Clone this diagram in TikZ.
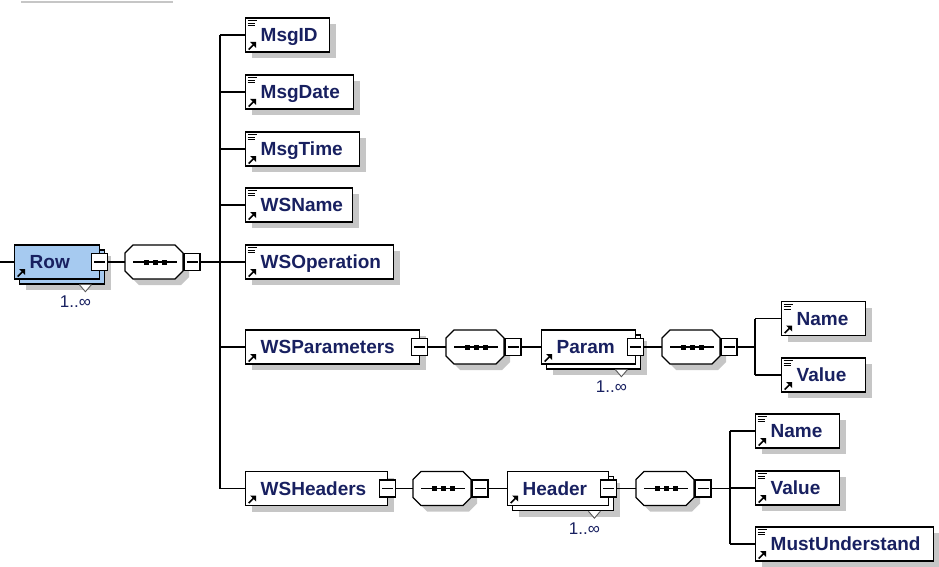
\documentclass[tikz,border=0pt]{standalone}
\usepackage{fontspec}
\setmainfont{Liberation Sans}
\usetikzlibrary{shadows,calc}

\definecolor{labelblue}{RGB}{24,32,96}
\definecolor{rowblue}{RGB}{166,202,240}
\definecolor{shadowgrey}{RGB}{198,198,198}

% small "reference" arrow in the lower left corner of an element box
\newcommand\arrowicon{%
  \fill[black] ([xshift=10.5pt,yshift=10pt]path picture bounding box.south west)
     -- ++(-6pt,0pt) -- ++(6pt,-6pt) -- cycle;
  \draw[black,line width=1.6pt]
     ([xshift=3pt,yshift=2.5pt]path picture bounding box.south west)
     -- ([xshift=8pt,yshift=7.5pt]path picture bounding box.south west);}
% "simple content" lines in the upper left corner of a leaf element
\newcommand\linesicon{%
  \draw[black,line width=0.9pt]
     ([xshift=2pt,yshift=-2.6pt]path picture bounding box.north west) -- ++(9pt,0pt)
     ([xshift=2pt,yshift=-5.1pt]path picture bounding box.north west) -- ++(7pt,0pt)
     ([xshift=2pt,yshift=-7.6pt]path picture bounding box.north west) -- ++(7pt,0pt);}

\tikzset{
  elem/.style={rectangle, draw=black, line width=1.4pt, fill=white, anchor=west,
    minimum height=34pt, inner xsep=15pt, inner ysep=0pt,
    text height=13.6pt, text depth=0pt, align=left, text=labelblue,
    font=\fontsize{19pt}{22pt}\selectfont\bfseries},
  boxshadow/.style={general shadow={shadow xshift=6pt, shadow yshift=-6pt, fill=shadowgrey}},
  leaf/.style={elem, boxshadow, path picture={\linesicon\arrowicon}},
  ref/.style={path picture={\arrowicon}},
  minusbox/.style={rectangle, draw=black, fill=white, line width=1.4pt,
    minimum width=16pt, minimum height=17pt, inner sep=0pt,
    path picture={\draw[line width=1.3pt]
      ([xshift=2.5pt]path picture bounding box.west) --
      ([xshift=-2.5pt]path picture bounding box.east);}},
  occ/.style={inner sep=0pt, text=labelblue, font=\fontsize{17pt}{20pt}\selectfont},
  conn/.style={draw=black, line width=1.4pt},
  oct/.style={insert path={(0,-9) -- (8,-17) -- (50,-17) -- (58,-9) -- (58,9)
    -- (50,17) -- (8,17) -- (0,9) -- cycle}},
}

% sequence compositor: octagon with its collapse box; #1 = name, #2 = left middle point
\newcommand\seqbox[2]{%
  \coordinate (#1) at (#2);
  \begin{scope}[shift={(#1)}]
    \fill[shadowgrey, shift={(6,6)}, oct];
    \draw[line width=1.3pt, fill=white, oct];
    \draw[line width=1.2pt] (8,0) -- (52,0);
    \foreach \d in {21.5,30.5,39.5} \fill (\d-2.5,-2.5) rectangle (\d+2.5,2.5);
  \end{scope}
  \node[minusbox] (#1m) at ($(#1)+(67,0)$) {};}

% "1..unbounded" marker under a repeated element
\newcommand\repmark[1]{%
  \fill[white] ([xshift=-26pt]#1.south east) -- ([xshift=-14pt]#1.south east)
     -- ([xshift=-20pt,yshift=-7pt]#1.south east) -- cycle;
  \draw[black!65,line width=0.9pt] ([xshift=-26pt]#1.south east)
     -- ([xshift=-20pt,yshift=-7pt]#1.south east) -- ([xshift=-14pt]#1.south east);}

\begin{document}
\begin{tikzpicture}[x=1pt,y=-1pt]
\useasboundingbox (0,0) rectangle (939,567);

% edge of a shadow at the top
\draw[shadowgrey, line width=2pt] (21,2.5) -- (173,2.5);

% ---- Row (repeated root element) ----
\coordinate (rin) at (0,262);
\node[elem, boxshadow, fill=rowblue, text width=55pt] (rowback) at (19,267) {};
\repmark{rowback}
\node[elem, ref, fill=rowblue, text width=55pt] (row) at (14,262) {Row};
\node[minusbox] (rowm) at ([xshift=-1pt]row.east) {};
\node[occ] (rowocc) at ([xshift=-30pt,yshift=-17pt]rowback.south east) {1..∞};

\seqbox{seqr}{125,262}
\coordinate (t1) at (220,262);

% ---- children of Row ----
\node[leaf, text width=54pt]  (msgid)   at (245,35)  {MsgID};
\node[leaf, text width=78pt]  (msgdate) at (245,92)  {MsgDate};
\node[leaf, text width=84pt]  (msgtime) at (245,149) {MsgTime};
\node[leaf, text width=77pt]  (wsname)  at (245,205) {WSName};
\node[leaf, text width=118pt] (wsop)    at (245,262) {WSOperation};
\node[elem, boxshadow, ref, text width=144pt] (wsparams) at (245,347) {WSParameters};
\node[minusbox] (wsparamsm) at ([xshift=-1pt]wsparams.east) {};
\node[elem, boxshadow, ref, text width=112pt] (wsheaders) at (245,488.5) {WSHeaders};
\node[minusbox] (wsheadersm) at ([xshift=-1pt]wsheaders.east) {};

% ---- WSParameters branch ----
\seqbox{seqp}{446,347}
\node[elem, boxshadow, text width=64pt] (paramback) at (546,352) {};
\repmark{paramback}
\node[elem, ref, text width=64pt] (param) at (541,347) {Param};
\node[minusbox] (paramm) at ([xshift=-1pt]param.east) {};
\node[occ] (paramocc) at ([xshift=-30pt,yshift=-17pt]paramback.south east) {1..∞};
\seqbox{seqpp}{662,347}
\coordinate (t2) at (755,347);
\node[leaf, text width=54pt] (pname)  at (781,318.5) {Name};
\node[leaf, text width=54pt] (pvalue) at (781,375)   {Value};

% ---- WSHeaders branch ----
\seqbox{seqh}{413,488.5}
\node[elem, boxshadow, text width=71pt] (headerback) at (512,493.5) {};
\repmark{headerback}
\node[elem, ref, text width=71pt] (header) at (507,488.5) {Header};
\node[minusbox] (headerm) at ([xshift=-1pt]header.east) {};
\node[occ] (headerocc) at ([xshift=-30pt,yshift=-17pt]headerback.south east) {1..∞};
\seqbox{seqhh}{636,488.5}
\coordinate (t3) at (730,488.5);
\node[leaf, text width=54pt]  (hname)  at (755,431) {Name};
\node[leaf, text width=54pt]  (hvalue) at (755,488) {Value};
\node[leaf, text width=148pt] (hmust)  at (755,544) {MustUnderstand};

% ---- connectors ----
\draw[conn] (rin) -- (row.west);
\draw[conn] (rowm.east) -- (seqr);
\draw[conn] (seqrm.east) -- (t1);
\draw[conn] (t1 |- msgid.west) -- (t1 |- wsheaders.west);
\foreach \n in {msgid,msgdate,msgtime,wsname,wsop,wsparams,wsheaders}
  \draw[conn] (t1 |- \n.west) -- (\n.west);

\draw[conn] (wsparamsm.east) -- (seqp);
\draw[conn] (seqpm.east) -- (param.west);
\draw[conn] (paramm.east) -- (seqpp);
\draw[conn] (seqppm.east) -- (t2);
\draw[conn] (t2 |- pname.west) -- (t2 |- pvalue.west);
\foreach \n in {pname,pvalue} \draw[conn] (t2 |- \n.west) -- (\n.west);

\draw[conn] (wsheadersm.east) -- (seqh);
\draw[conn] (seqhm.east) -- (header.west);
\draw[conn] (headerm.east) -- (seqhh);
\draw[conn] (seqhhm.east) -- (t3);
\draw[conn] (t3 |- hname.west) -- (t3 |- hmust.west);
\foreach \n in {hname,hvalue,hmust} \draw[conn] (t3 |- \n.west) -- (\n.west);
\end{tikzpicture}
\end{document}
